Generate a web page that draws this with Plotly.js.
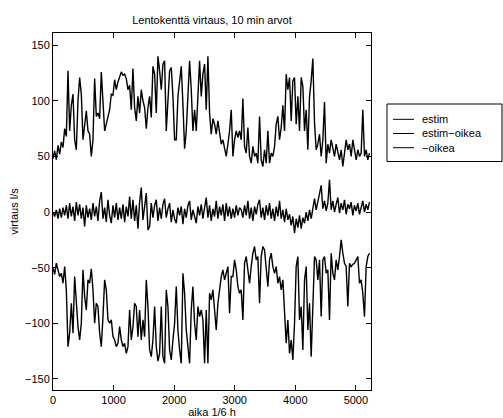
<!DOCTYPE html>
<html>
<head>
<meta charset="utf-8">
<script src="https://cdn.plot.ly/plotly-3.0.1.min.js"></script>
<style>html,body{margin:0;padding:0;background:#fff;}#chart{width:503px;height:418px;}</style>
</head>
<body>
<div id="chart"></div>
<script>
// sample spacing along the time axis (1/6 h units)
const sampleStep = 27.5;

const estim = [
48,55,47,60,52,63,58,75,68,127,73,96,106,65,56,100,121,106,65,80,91,73,70,50,65,120,86,89,84,126,104,73,79,85,92,106,105,119,110,117,121,126,123,124,120,110,114,92,129,94,82,104,89,110,100,94,75,94,104,85,131,124,89,140,127,110,133,136,73,104,127,130,104,65,
65,104,118,131,97,57,73,104,136,110,73,92,73,104,136,104,124,133,92,140,89,70,84,79,70,82,73,61,65,56,50,61,73,92,50,65,73,67,73,65,102,59,53,76,50,44,59,50,53,44,86,47,41,56,44,73,44,53,50,59,79,86,65,76,96,73,124,110,121,82,118,121,79,
104,73,121,113,73,92,56,104,118,138,80,56,61,70,50,65,99,44,61,53,65,56,50,61,53,47,56,41,53,65,56,61,50,65,56,47,56,50,53,92,50,56,47,53
];

const estimMinusOikea = [
0,-4,2,-6,3,-5,4,-3,6,-6,8,-4,5,-8,9,-3,7,-6,4,-13,6,-5,3,-7,8,-4,5,-8,10,18,-6,4,-9,11,-3,-10,6,-5,8,-7,4,-6,7,-9,5,-4,14,-6,11,-8,6,-15,9,22,-7,5,17,-16,-13,8,-5,6,11,-8,4,-6,7,12,-5,3,8,-9,2,-6,-10,4,-3,5,-11,3,-5,6,10,-7,2,-4,-10,5,-3,7,-6,4,13,-5,6,-8,3,-4,10,-6,5,-3,7,-8,8,-4,5,-6,3,-5,6,-3,4,
2,-5,6,-3,10,-6,4,-8,5,-2,7,11,-5,4,-7,6,-3,8,-6,3,-8,5,-4,10,-6,2,-9,3,-7,-2,-12,-4,-19,-6,-14,-3,-15,-5,-10,0,-8,2,-6,4,12,2,9,16,24,3,10,1,8,29,2,10,0,7,13,-1,8,2,11,-2,7,3,9,-3,6,1,8,-2,5,10,0,7,2,9
];

const minusOikea = [
-50,-56,-46,-52,-58,-55,-64,-49,-70,-121,-109,-82,-109,-58,-85,-103,-115,-100,-52,-76,-88,-61,-64,-51,-70,-100,-82,-85,-109,-121,-94,-61,-70,-97,-100,-97,-112,-115,-121,-118,-103,-115,-121,-118,-127,-121,-88,-115,-103,-82,-85,-112,-88,-115,-97,-112,-61,-85,-124,-130,-115,-85,-121,-134,-127,-85,-130,-136,-70,-85,-124,-133,-115,-100,
-67,-106,-124,-136,-55,-73,-106,-124,-136,-88,-67,-100,-115,-85,-94,-88,-97,-136,-88,-136,-73,-79,-70,-88,-106,-82,-70,-58,-52,-61,-55,-49,-91,-58,-58,-43,-52,-67,-73,-70,-97,-46,-40,-55,-64,-49,-37,-31,-43,-40,-82,-40,-31,-34,-49,-67,-43,-37,-49,-55,-49,-64,-58,-70,-61,-94,-118,-97,-127,-115,-133,-100,-49,
-40,-97,-85,-124,-61,-49,-106,-82,-130,-73,-40,-43,-61,-43,-94,-43,-40,-55,-52,-97,-37,-55,-61,-43,-52,-40,-25,-37,-46,-49,-85,-46,-49,-47,-46,-43,-40,-64,-61,-73,-94,-49,-40,-37
];

const seriesNames = ['estim', 'estim\u2212oikea', '\u2212oikea'];
const xTicks = [0, 1000, 2000, 3000, 4000, 5000];
const yTicks = [-150, -100, -50, 0, 50, 100, 150];

function idx(arr) { return arr.map((_, i) => i * sampleStep); }

const FONT = 'Liberation Sans, Arial, Helvetica, sans-serif';
const lineStyle = {color: '#000', width: 1.4};

const traces = [
  {x: idx(estim), y: estim, name: seriesNames[0], type: 'scatter', mode: 'lines', line: lineStyle},
  {x: idx(estimMinusOikea), y: estimMinusOikea, name: seriesNames[1], type: 'scatter', mode: 'lines', line: lineStyle},
  {x: idx(minusOikea), y: minusOikea, name: seriesNames[2], type: 'scatter', mode: 'lines', line: lineStyle}
];

const axisCommon = {
  showline: true, linecolor: '#000', linewidth: 1, mirror: 'ticks',
  ticks: 'inside', ticklen: 5, tickwidth: 1, tickcolor: '#000',
  showgrid: false, zeroline: false,
  tickfont: {family: FONT, size: 11, color: '#000'}
};

// legend box (drawn as chart chrome, in paper coordinates)
const legendBox = {x0: 1.0503, x1: 1.4119, y0: 0.640, y1: 0.8011};
const legendRows = [0.7582, 0.7185, 0.6787];
const legendLine = {x0: 1.0692, x1: 1.1352};
const legendTextX = 1.1541;

const shapes = [{type: 'rect', xref: 'paper', yref: 'paper',
  x0: legendBox.x0, x1: legendBox.x1, y0: legendBox.y0, y1: legendBox.y1,
  line: {color: '#000', width: 1}, fillcolor: '#fff'}];
const annotations = [];
seriesNames.forEach((n, i) => {
  shapes.push({type: 'line', xref: 'paper', yref: 'paper',
    x0: legendLine.x0, x1: legendLine.x1, y0: legendRows[i], y1: legendRows[i],
    line: {color: '#000', width: 1}});
  annotations.push({xref: 'paper', yref: 'paper', x: legendTextX, y: legendRows[i],
    xanchor: 'left', yanchor: 'middle', showarrow: false, text: n,
    font: {family: FONT, size: 11, color: '#000'}});
});

const layout = {
  width: 503, height: 418,
  margin: {l: 53, r: 132, t: 33, b: 28},
  paper_bgcolor: '#fff', plot_bgcolor: '#fff',
  font: {family: FONT, size: 11, color: '#000'},
  title: {text: 'Lentokenttä virtaus, 10 min arvot', font: {family: FONT, size: 11, color: '#000'},
          x: 0.4215, xanchor: 'center', y: 0.952, yanchor: 'middle', yref: 'container'},
  xaxis: Object.assign({}, axisCommon, {
    range: [0, 5250], tickmode: 'array', tickvals: xTicks,
    title: {text: 'aika 1/6 h', font: {family: FONT, size: 11, color: '#000'}, standoff: 3}
  }),
  yaxis: Object.assign({}, axisCommon, {
    range: [-160, 161], tickmode: 'array', tickvals: yTicks,
    title: {text: 'virtaus l/s', font: {family: FONT, size: 11, color: '#000'}, standoff: 4}
  }),
  showlegend: false,
  shapes: shapes,
  annotations: annotations
};

Plotly.newPlot('chart', traces, layout, {displayModeBar: false, staticPlot: true});
</script>
</body>
</html>
